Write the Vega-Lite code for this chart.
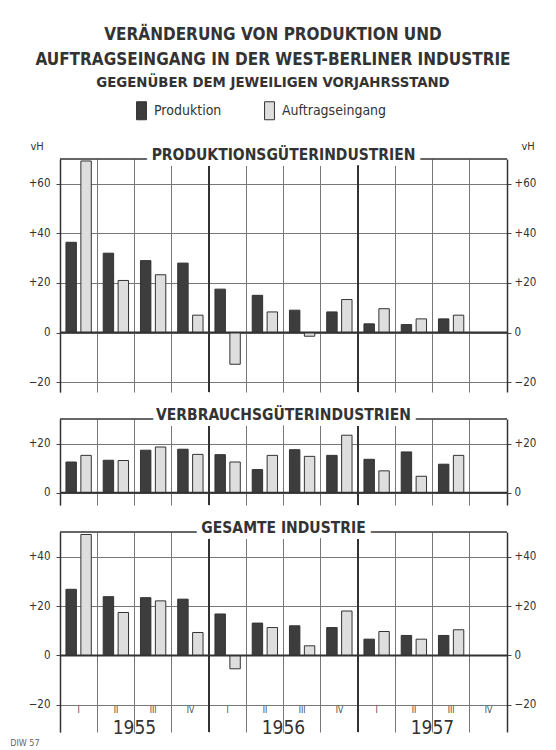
{
  "$schema": "https://vega.github.io/schema/vega-lite/v6.json",
  "autosize": {"type": "none"},
  "padding": {"left": 60, "top": 159, "right": 496, "bottom": 591},
  "background": "white",
  "title": {
    "text": ["VERÄNDERUNG VON PRODUKTION UND", "AUFTRAGSEINGANG IN DER WEST-BERLINER INDUSTRIE"],
    "subtitle": "GEGENÜBER DEM JEWEILIGEN VORJAHRSSTAND",
    "anchor": "middle",
    "fontSize": 17,
    "fontWeight": "bold",
    "color": "#333",
    "lineHeight": 25,
    "subtitleFontSize": 14.8,
    "subtitleFontWeight": "bold",
    "subtitleColor": "#333",
    "subtitlePadding": 6,
    "offset": 10,
    "dx": 0
  },
  "datasets": {
    "bars": [
      {"p": "P", "q": "1955 I", "s": "Produktion", "v": 36.4},
      {"p": "P", "q": "1955 I", "s": "Auftragseingang", "v": 69.2},
      {"p": "P", "q": "1955 II", "s": "Produktion", "v": 32},
      {"p": "P", "q": "1955 II", "s": "Auftragseingang", "v": 21},
      {"p": "P", "q": "1955 III", "s": "Produktion", "v": 29},
      {"p": "P", "q": "1955 III", "s": "Auftragseingang", "v": 23.3},
      {"p": "P", "q": "1955 IV", "s": "Produktion", "v": 28},
      {"p": "P", "q": "1955 IV", "s": "Auftragseingang", "v": 7},
      {"p": "P", "q": "1956 I", "s": "Produktion", "v": 17.5},
      {"p": "P", "q": "1956 I", "s": "Auftragseingang", "v": -12.8},
      {"p": "P", "q": "1956 II", "s": "Produktion", "v": 15},
      {"p": "P", "q": "1956 II", "s": "Auftragseingang", "v": 8.3},
      {"p": "P", "q": "1956 III", "s": "Produktion", "v": 9},
      {"p": "P", "q": "1956 III", "s": "Auftragseingang", "v": -1.5},
      {"p": "P", "q": "1956 IV", "s": "Produktion", "v": 8.3},
      {"p": "P", "q": "1956 IV", "s": "Auftragseingang", "v": 13.3},
      {"p": "P", "q": "1957 I", "s": "Produktion", "v": 3.5},
      {"p": "P", "q": "1957 I", "s": "Auftragseingang", "v": 9.6},
      {"p": "P", "q": "1957 II", "s": "Produktion", "v": 3.2},
      {"p": "P", "q": "1957 II", "s": "Auftragseingang", "v": 5.5},
      {"p": "P", "q": "1957 III", "s": "Produktion", "v": 5.5},
      {"p": "P", "q": "1957 III", "s": "Auftragseingang", "v": 7},
      {"p": "V", "q": "1955 I", "s": "Produktion", "v": 12.5},
      {"p": "V", "q": "1955 I", "s": "Auftragseingang", "v": 15.2},
      {"p": "V", "q": "1955 II", "s": "Produktion", "v": 13.2},
      {"p": "V", "q": "1955 II", "s": "Auftragseingang", "v": 13.1},
      {"p": "V", "q": "1955 III", "s": "Produktion", "v": 17.3},
      {"p": "V", "q": "1955 III", "s": "Auftragseingang", "v": 18.6},
      {"p": "V", "q": "1955 IV", "s": "Produktion", "v": 17.7},
      {"p": "V", "q": "1955 IV", "s": "Auftragseingang", "v": 15.6},
      {"p": "V", "q": "1956 I", "s": "Produktion", "v": 15.5},
      {"p": "V", "q": "1956 I", "s": "Auftragseingang", "v": 12.5},
      {"p": "V", "q": "1956 II", "s": "Produktion", "v": 9.4},
      {"p": "V", "q": "1956 II", "s": "Auftragseingang", "v": 15.2},
      {"p": "V", "q": "1956 III", "s": "Produktion", "v": 17.5},
      {"p": "V", "q": "1956 III", "s": "Auftragseingang", "v": 14.8},
      {"p": "V", "q": "1956 IV", "s": "Produktion", "v": 15.2},
      {"p": "V", "q": "1956 IV", "s": "Auftragseingang", "v": 23.4},
      {"p": "V", "q": "1957 I", "s": "Produktion", "v": 13.6},
      {"p": "V", "q": "1957 I", "s": "Auftragseingang", "v": 8.9},
      {"p": "V", "q": "1957 II", "s": "Produktion", "v": 16.6},
      {"p": "V", "q": "1957 II", "s": "Auftragseingang", "v": 6.7},
      {"p": "V", "q": "1957 III", "s": "Produktion", "v": 11.6},
      {"p": "V", "q": "1957 III", "s": "Auftragseingang", "v": 15.2},
      {"p": "G", "q": "1955 I", "s": "Produktion", "v": 26.8},
      {"p": "G", "q": "1955 I", "s": "Auftragseingang", "v": 49},
      {"p": "G", "q": "1955 II", "s": "Produktion", "v": 23.8},
      {"p": "G", "q": "1955 II", "s": "Auftragseingang", "v": 17.4},
      {"p": "G", "q": "1955 III", "s": "Produktion", "v": 23.4},
      {"p": "G", "q": "1955 III", "s": "Auftragseingang", "v": 22.1},
      {"p": "G", "q": "1955 IV", "s": "Produktion", "v": 22.8},
      {"p": "G", "q": "1955 IV", "s": "Auftragseingang", "v": 9.3},
      {"p": "G", "q": "1956 I", "s": "Produktion", "v": 16.8},
      {"p": "G", "q": "1956 I", "s": "Auftragseingang", "v": -5.4},
      {"p": "G", "q": "1956 II", "s": "Produktion", "v": 13.1},
      {"p": "G", "q": "1956 II", "s": "Auftragseingang", "v": 11.3},
      {"p": "G", "q": "1956 III", "s": "Produktion", "v": 12},
      {"p": "G", "q": "1956 III", "s": "Auftragseingang", "v": 3.9},
      {"p": "G", "q": "1956 IV", "s": "Produktion", "v": 11.3},
      {"p": "G", "q": "1956 IV", "s": "Auftragseingang", "v": 18},
      {"p": "G", "q": "1957 I", "s": "Produktion", "v": 6.6},
      {"p": "G", "q": "1957 I", "s": "Auftragseingang", "v": 9.7},
      {"p": "G", "q": "1957 II", "s": "Produktion", "v": 8.1},
      {"p": "G", "q": "1957 II", "s": "Auftragseingang", "v": 6.6},
      {"p": "G", "q": "1957 III", "s": "Produktion", "v": 8.1},
      {"p": "G", "q": "1957 III", "s": "Auftragseingang", "v": 10.4}
    ],
    "years": [{"q": "1956 I"}, {"q": "1957 I"}],
    "yearlabels": [{"q": "1955 III", "y": "1955"}, {"q": "1956 III", "y": "1956"}, {"q": "1957 III", "y": "1957"}],
    "qlabels": [
      {"q": "1955 I", "l": "I"}, {"q": "1955 II", "l": "II"}, {"q": "1955 III", "l": "III"}, {"q": "1955 IV", "l": "IV"},
      {"q": "1956 I", "l": "I"}, {"q": "1956 II", "l": "II"}, {"q": "1956 III", "l": "III"}, {"q": "1956 IV", "l": "IV"},
      {"q": "1957 I", "l": "I"}, {"q": "1957 II", "l": "II"}, {"q": "1957 III", "l": "III"}, {"q": "1957 IV", "l": "IV"}
    ]
  },
  "vconcat": [
    {
      "width": 447,
      "height": 233,
      "resolve": {"scale": {"y": "independent"}},
      "layer": [
        {
          "layer": [
            {
              "data": {"name": "bars"},
              "transform": [{"filter": "datum.p == 'P'"}],
              "mark": {"type": "bar", "stroke": "#333", "strokeWidth": 1},
              "encoding": {
                "x": {"field": "q", "type": "nominal", "scale": {"domain": ["1955 I","1955 II","1955 III","1955 IV","1956 I","1956 II","1956 III","1956 IV","1957 I","1957 II","1957 III","1957 IV"], "paddingInner": 0, "paddingOuter": 0}, "axis": {"orient": "bottom", "bandPosition": 0, "grid": true, "labels": false, "ticks": false, "domain": false, "title": null}},
                "xOffset": {"field": "s", "type": "nominal", "scale": {"domain": ["Produktion", "Auftragseingang"], "paddingInner": 0.3, "paddingOuter": 0.4}},
                "y": {"field": "v", "type": "quantitative", "scale": {"domain": [-24, 70], "nice": false, "zero": false}, "axis": {"orient": "left", "values": [-20, 0, 20, 40, 60], "labelExpr": "datum.value > 0 ? '+' + datum.label : datum.label", "grid": true, "tickSize": 4, "labelPadding": 6, "title": "vH", "titleAngle": 0, "titleX": -30, "titleY": -10, "titleAlign": "left", "titleBaseline": "alphabetic", "titleFontSize": 11}},
                "color": {"field": "s", "type": "nominal", "scale": {"domain": ["Produktion", "Auftragseingang"], "range": ["#3d3d3d", "#dedede"]}, "legend": {"orient": "none", "legendX": 72, "legendY": -58, "direction": "horizontal", "title": null, "symbolType": "M-0.55,-1H0.55V1H-0.55Z", "symbolSize": 324, "symbolStrokeColor": "#333", "symbolStrokeWidth": 1, "labelFontSize": 14, "labelOffset": 3, "columnPadding": 38, "labelColor": "#333"}}
              }
            },
            {
              "data": {"name": "years"},
              "mark": {"type": "rule", "strokeWidth": 2, "color": "#333"},
              "encoding": {"x": {"field": "q", "type": "nominal", "bandPosition": 0, "scale": {"domain": ["1955 I","1955 II","1955 III","1955 IV","1956 I","1956 II","1956 III","1956 IV","1957 I","1957 II","1957 III","1957 IV"]}}}
            },
            {
              "data": {"values": [{"t": "PRODUKTIONSGÜTERINDUSTRIEN"}]},
              "mark": {"type": "rule", "strokeWidth": 1.5, "color": "#333"},
              "encoding": {"y": {"datum": 70, "type": "quantitative", "scale": {"domain": [-24, 70], "nice": false, "zero": false}}}
            },
            {
              "data": {"values": [{"t": "PRODUKTIONSGÜTERINDUSTRIEN"}]},
              "mark": {"type": "text", "fontSize": 15.5, "fontWeight": "bold", "color": "white", "stroke": "white", "strokeWidth": 12, "strokeJoin": "round", "baseline": "alphabetic", "dy": 1},
              "encoding": {
                "x": {"datum": "1956 III", "type": "nominal", "bandPosition": 0, "scale": {"domain": ["1955 I","1955 II","1955 III","1955 IV","1956 I","1956 II","1956 III","1956 IV","1957 I","1957 II","1957 III","1957 IV"]}},
                "y": {"datum": 70, "type": "quantitative", "scale": {"domain": [-24, 70], "nice": false, "zero": false}},
                "text": {"field": "t"}
              }
            },
            {
              "data": {"values": [{"t": "PRODUKTIONSGÜTERINDUSTRIEN"}]},
              "mark": {"type": "text", "fontSize": 15.5, "fontWeight": "bold", "color": "#333", "baseline": "alphabetic", "dy": 1},
              "encoding": {
                "x": {"datum": "1956 III", "type": "nominal", "bandPosition": 0, "scale": {"domain": ["1955 I","1955 II","1955 III","1955 IV","1956 I","1956 II","1956 III","1956 IV","1957 I","1957 II","1957 III","1957 IV"]}},
                "y": {"datum": 70, "type": "quantitative", "scale": {"domain": [-24, 70], "nice": false, "zero": false}},
                "text": {"field": "t"}
              }
            }
          ]
        },
        {
          "data": {"values": [{"z": 0}]},
          "mark": {"type": "rule", "strokeWidth": 2, "color": "#333"},
          "encoding": {
            "y": {"field": "z", "type": "quantitative", "scale": {"domain": [-24, 70], "nice": false, "zero": false}, "axis": {"orient": "right", "values": [-20, 0, 20, 40, 60], "labelExpr": "datum.value > 0 ? '+' + datum.label : datum.label", "grid": false, "tickSize": 4, "labelPadding": 3, "title": "vH", "titleAngle": 0, "titleX": 14, "titleY": -10, "titleAlign": "left", "titleBaseline": "alphabetic", "titleFontSize": 11}}
          }
        }
      ]
    },
    {
      "width": 447,
      "height": 86,
      "resolve": {"scale": {"y": "independent"}},
      "layer": [
        {
          "layer": [
            {
              "data": {"name": "bars"},
              "transform": [{"filter": "datum.p == 'V'"}],
              "mark": {"type": "bar", "stroke": "#333", "strokeWidth": 1},
              "encoding": {
                "x": {"field": "q", "type": "nominal", "scale": {"domain": ["1955 I","1955 II","1955 III","1955 IV","1956 I","1956 II","1956 III","1956 IV","1957 I","1957 II","1957 III","1957 IV"], "paddingInner": 0, "paddingOuter": 0}, "axis": {"orient": "bottom", "bandPosition": 0, "grid": true, "labels": false, "ticks": false, "domain": false, "title": null}},
                "xOffset": {"field": "s", "type": "nominal", "scale": {"domain": ["Produktion", "Auftragseingang"], "paddingInner": 0.3, "paddingOuter": 0.4}},
                "y": {"field": "v", "type": "quantitative", "scale": {"domain": [-5, 30], "nice": false, "zero": false}, "axis": {"orient": "left", "values": [0, 20], "labelExpr": "datum.value > 0 ? '+' + datum.label : datum.label", "grid": true, "tickSize": 4, "labelPadding": 6, "title": null}},
                "color": {"field": "s", "type": "nominal", "scale": {"domain": ["Produktion", "Auftragseingang"], "range": ["#3d3d3d", "#dedede"]}}
              }
            },
            {
              "data": {"name": "years"},
              "mark": {"type": "rule", "strokeWidth": 2, "color": "#333"},
              "encoding": {"x": {"field": "q", "type": "nominal", "bandPosition": 0, "scale": {"domain": ["1955 I","1955 II","1955 III","1955 IV","1956 I","1956 II","1956 III","1956 IV","1957 I","1957 II","1957 III","1957 IV"]}}}
            },
            {
              "data": {"values": [{"t": "VERBRAUCHSGÜTERINDUSTRIEN"}]},
              "mark": {"type": "rule", "strokeWidth": 1.5, "color": "#333"},
              "encoding": {"y": {"datum": 30, "type": "quantitative", "scale": {"domain": [-5, 30], "nice": false, "zero": false}}}
            },
            {
              "data": {"values": [{"t": "VERBRAUCHSGÜTERINDUSTRIEN"}]},
              "mark": {"type": "text", "fontSize": 15.5, "fontWeight": "bold", "color": "white", "stroke": "white", "strokeWidth": 12, "strokeJoin": "round", "baseline": "alphabetic", "dy": 1},
              "encoding": {
                "x": {"datum": "1956 III", "type": "nominal", "bandPosition": 0, "scale": {"domain": ["1955 I","1955 II","1955 III","1955 IV","1956 I","1956 II","1956 III","1956 IV","1957 I","1957 II","1957 III","1957 IV"]}},
                "y": {"datum": 30, "type": "quantitative", "scale": {"domain": [-5, 30], "nice": false, "zero": false}},
                "text": {"field": "t"}
              }
            },
            {
              "data": {"values": [{"t": "VERBRAUCHSGÜTERINDUSTRIEN"}]},
              "mark": {"type": "text", "fontSize": 15.5, "fontWeight": "bold", "color": "#333", "baseline": "alphabetic", "dy": 1},
              "encoding": {
                "x": {"datum": "1956 III", "type": "nominal", "bandPosition": 0, "scale": {"domain": ["1955 I","1955 II","1955 III","1955 IV","1956 I","1956 II","1956 III","1956 IV","1957 I","1957 II","1957 III","1957 IV"]}},
                "y": {"datum": 30, "type": "quantitative", "scale": {"domain": [-5, 30], "nice": false, "zero": false}},
                "text": {"field": "t"}
              }
            }
          ]
        },
        {
          "data": {"values": [{"z": 0}]},
          "mark": {"type": "rule", "strokeWidth": 2, "color": "#333"},
          "encoding": {
            "y": {"field": "z", "type": "quantitative", "scale": {"domain": [-5, 30], "nice": false, "zero": false}, "axis": {"orient": "right", "values": [0, 20], "labelExpr": "datum.value > 0 ? '+' + datum.label : datum.label", "grid": false, "tickSize": 4, "labelPadding": 3, "title": null}}
          }
        }
      ]
    },
    {
      "width": 447,
      "height": 200,
      "title": {"text": "DIW 57", "orient": "bottom", "anchor": "start", "dx": -18, "offset": 1, "fontSize": 9, "fontWeight": "normal", "color": "#666"},
      "resolve": {"scale": {"y": "independent"}},
      "layer": [
        {
          "layer": [
            {
              "data": {"name": "bars"},
              "transform": [{"filter": "datum.p == 'G'"}],
              "mark": {"type": "bar", "stroke": "#333", "strokeWidth": 1},
              "encoding": {
                "x": {"field": "q", "type": "nominal", "scale": {"domain": ["1955 I","1955 II","1955 III","1955 IV","1956 I","1956 II","1956 III","1956 IV","1957 I","1957 II","1957 III","1957 IV"], "paddingInner": 0, "paddingOuter": 0}, "axis": {"orient": "bottom", "bandPosition": 0, "grid": true, "labels": false, "ticks": false, "domain": false, "title": null}},
                "xOffset": {"field": "s", "type": "nominal", "scale": {"domain": ["Produktion", "Auftragseingang"], "paddingInner": 0.3, "paddingOuter": 0.4}},
                "y": {"field": "v", "type": "quantitative", "scale": {"domain": [-31, 50], "nice": false, "zero": false}, "axis": {"orient": "left", "values": [-20, 0, 20, 40], "labelExpr": "datum.value > 0 ? '+' + datum.label : datum.label", "grid": true, "tickSize": 4, "labelPadding": 6, "title": null}},
                "color": {"field": "s", "type": "nominal", "scale": {"domain": ["Produktion", "Auftragseingang"], "range": ["#3d3d3d", "#dedede"]}}
              }
            },
            {
              "data": {"name": "years"},
              "mark": {"type": "rule", "strokeWidth": 2, "color": "#333"},
              "encoding": {"x": {"field": "q", "type": "nominal", "bandPosition": 0, "scale": {"domain": ["1955 I","1955 II","1955 III","1955 IV","1956 I","1956 II","1956 III","1956 IV","1957 I","1957 II","1957 III","1957 IV"]}}}
            },
            {
              "data": {"name": "qlabels"},
              "mark": {"type": "text", "fontSize": 8.5, "color": "#444", "baseline": "middle"},
              "encoding": {
                "x": {"field": "q", "type": "nominal", "scale": {"domain": ["1955 I","1955 II","1955 III","1955 IV","1956 I","1956 II","1956 III","1956 IV","1957 I","1957 II","1957 III","1957 IV"]}},
                "y": {"datum": -22, "type": "quantitative", "scale": {"domain": [-31, 50], "nice": false, "zero": false}},
                "text": {"field": "l"}
              }
            },
            {
              "data": {"name": "yearlabels"},
              "mark": {"type": "text", "fontSize": 19, "color": "#333", "baseline": "alphabetic", "dy": 2},
              "encoding": {
                "x": {"field": "q", "type": "nominal", "bandPosition": 0, "scale": {"domain": ["1955 I","1955 II","1955 III","1955 IV","1956 I","1956 II","1956 III","1956 IV","1957 I","1957 II","1957 III","1957 IV"]}},
                "y": {"datum": -31, "type": "quantitative", "scale": {"domain": [-31, 50], "nice": false, "zero": false}},
                "text": {"field": "y"}
              }
            },
            {
              "data": {"values": [{"t": "GESAMTE INDUSTRIE"}]},
              "mark": {"type": "rule", "strokeWidth": 1.5, "color": "#333"},
              "encoding": {"y": {"datum": 50, "type": "quantitative", "scale": {"domain": [-31, 50], "nice": false, "zero": false}}}
            },
            {
              "data": {"values": [{"t": "GESAMTE INDUSTRIE"}]},
              "mark": {"type": "text", "fontSize": 15.5, "fontWeight": "bold", "color": "white", "stroke": "white", "strokeWidth": 12, "strokeJoin": "round", "baseline": "alphabetic", "dy": 1},
              "encoding": {
                "x": {"datum": "1956 III", "type": "nominal", "bandPosition": 0, "scale": {"domain": ["1955 I","1955 II","1955 III","1955 IV","1956 I","1956 II","1956 III","1956 IV","1957 I","1957 II","1957 III","1957 IV"]}},
                "y": {"datum": 50, "type": "quantitative", "scale": {"domain": [-31, 50], "nice": false, "zero": false}},
                "text": {"field": "t"}
              }
            },
            {
              "data": {"values": [{"t": "GESAMTE INDUSTRIE"}]},
              "mark": {"type": "text", "fontSize": 15.5, "fontWeight": "bold", "color": "#333", "baseline": "alphabetic", "dy": 1},
              "encoding": {
                "x": {"datum": "1956 III", "type": "nominal", "bandPosition": 0, "scale": {"domain": ["1955 I","1955 II","1955 III","1955 IV","1956 I","1956 II","1956 III","1956 IV","1957 I","1957 II","1957 III","1957 IV"]}},
                "y": {"datum": 50, "type": "quantitative", "scale": {"domain": [-31, 50], "nice": false, "zero": false}},
                "text": {"field": "t"}
              }
            }
          ]
        },
        {
          "data": {"values": [{"z": 0}]},
          "mark": {"type": "rule", "strokeWidth": 2, "color": "#333"},
          "encoding": {
            "y": {"field": "z", "type": "quantitative", "scale": {"domain": [-31, 50], "nice": false, "zero": false}, "axis": {"orient": "right", "values": [-20, 0, 20, 40], "labelExpr": "datum.value > 0 ? '+' + datum.label : datum.label", "grid": false, "tickSize": 4, "labelPadding": 3, "title": null}}
          }
        }
      ]
    }
  ],
  "spacing": 27,
  "bounds": "flush",
  "config": {
    "font": "DejaVu Sans Condensed, DejaVu Sans",
    "view": {"stroke": null},
    "axis": {"labelFont": "DejaVu Sans Condensed, DejaVu Sans", "labelColor": "#333", "labelFontSize": 11.5, "domainColor": "#333", "domainWidth": 1.5, "tickColor": "#444", "gridColor": "#777", "gridWidth": 1, "titleFont": "DejaVu Sans Condensed, DejaVu Sans", "titleFontWeight": "normal", "titleColor": "#333"},
    "legend": {"labelFont": "DejaVu Sans Condensed, DejaVu Sans"},
    "title": {"font": "DejaVu Sans Condensed, DejaVu Sans", "subtitleFont": "DejaVu Sans Condensed, DejaVu Sans"},
    "text": {"font": "DejaVu Sans Condensed, DejaVu Sans"}
  }
}
